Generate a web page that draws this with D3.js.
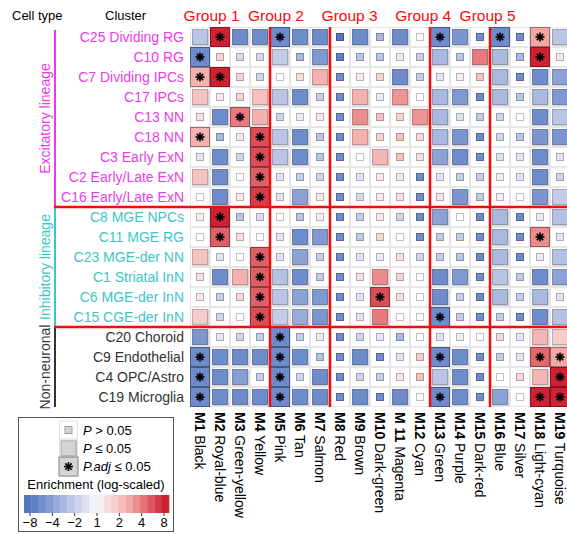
<!DOCTYPE html>
<html>
<head>
<meta charset="utf-8">
<script src="https://cdnjs.cloudflare.com/ajax/libs/d3/7.8.5/d3.min.js"></script>
<style>
  body { margin: 0; background: #fff; }
  svg text { font-family: "Liberation Sans", Arial, Helvetica, sans-serif; }
</style>
</head>
<body>
<div id="chart"></div>
<script>
// Row clusters and their cell types
var clusters = ["C25 Dividing RG", "C10 RG", "C7 Dividing IPCs", "C17 IPCs", "C13 NN", "C18 NN",
    "C3 Early ExN", "C2 Early/Late ExN", "C16 Early/Late ExN", "C8 MGE NPCs", "C11 MGE RG",
    "C23 MGE-der NN", "C1 Striatal InN", "C6 MGE-der InN", "C15 CGE-der InN", "C20 Choroid",
    "C9 Endothelial", "C4 OPC/Astro", "C19 Microglia"];
var cellTypes = [
    {name: "Excitatory lineage", first: 0, last: 8, color: "#e93ce9"},
    {name: "Inhibitory lineage", first: 9, last: 14, color: "#3cc6c8"},
    {name: "Non-neuronal", first: 15, last: 18, color: "#333333"}
];

// Module columns
var moduleIds = ["M1", "M2", "M3", "M4", "M5", "M6", "M7", "M8", "M9", "M10", "M 11", "M12",
    "M13", "M14", "M15", "M16", "M17", "M18", "M19"];
var moduleNames = ["Black", "Royal-blue", "Green-yellow", "Yellow", "Pink", "Tan", "Salmon", "Red",
    "Brown", "Dark-green", "Magenta", "Cyan", "Green", "Purple", "Dark-red", "Blue", "Silver",
    "Light-cyan", "Turquoise"];
var groups = [
    {name: "Group 1", first: 0, last: 3},
    {name: "Group 2", first: 4, last: 6},
    {name: "Group 3", first: 7, last: 11},
    {name: "Group 4", first: 12, last: 14},
    {name: "Group 5", first: 15, last: 18}
];

// Enrichment, log2 scale (-3 = 1/8 ... 3 = 8), one array per cluster
var enrichment = [
    [-1.2, 3, -2.5, -2.5, -2.5, -2.5, -2.5, -3, -2.5, -1.5, -2.5, 0, -2.5, -2.3, -2.5, -2.5, -2.5, 1.5, -1.2],
    [-2.5, 0.7, -0.7, -0.7, -1, -1.5, -2.2, -2.8, -1.2, -1.2, -0.3, -1, -1.5, -1.2, 2, -1.5, -1.5, 3, 0.3],
    [1.3, 3, 0.7, -0.8, 0, 0.5, 1.3, -2.5, 0.2, 0.7, -2.5, -1, -0.4, 0.2, 1, -1.5, -2.5, -2.5, -2],
    [1, 0.3, 0.7, 1, -1.2, -2.5, -1, -2.5, 1.3, -0.3, 1.7, 0, -1.5, -2.2, -2.5, -1.5, -1.2, -1.5, -2.2],
    [0.5, -2.5, 2, 1.3, -0.8, -0.3, 0.3, -2.5, 1.8, 1, 0.7, 1.7, -1.5, -0.5, -1, -0.8, 0, -2.5, -1.2],
    [1.3, -1.5, 0.3, 2.5, -1.2, -2.5, -1.2, -2.5, 1.3, 0.7, 1, 0.6, -1.5, -2.3, -2.5, -0.8, -1.2, -2.3, -2.3],
    [-0.4, -2.5, -0.8, 2.5, -1.2, -2.5, -1.2, -2.5, 0, 1.2, 1, 0.5, -2, -2.5, -2.5, -0.5, -0.4, -2.5, -0.5],
    [1, -2.5, 0, 2.3, -0.5, -1, -0.8, -2.5, -0.5, 0.3, -0.3, -2.5, -0.4, -1, -1, -0.2, -0.5, -2.5, -0.8],
    [0, -2.5, 0.3, 2.7, -0.5, -2, 0.3, -2.5, -0.6, 0.3, 0.5, -2.5, 0.4, -2.3, -1, -0.2, 0, -2.3, -1],
    [0.2, 3, -1.2, -0.6, 0, -1.2, 0.2, -2.5, -1, 0.3, -0.8, -2.5, -2, 0, -2.5, -1.5, -2.5, -0.3, -1.3],
    [0, 2.3, 0.5, 0, -0.4, -2.5, -2.2, -2.5, -1, 0.6, 0, -2.5, -1, -1, -2.5, -1.5, -2.5, 1.8, -0.4],
    [1, -0.5, 0, 2.3, -0.5, -2, -1, -2.5, -0.5, -0.3, 0.5, -0.8, -1, -1.2, -2.5, -1.5, -2.5, -0.3, -1.3],
    [0.5, -2.5, 1.3, 2.3, -1.3, -2.5, -1, -2.5, 0.5, 1.8, 0.7, 0, -2.5, -2.2, -2.5, -1.2, -1, -2.5, -2],
    [0.3, -1, 0.6, 2.3, -1.2, -2, -2.2, -2.5, -0.5, 2.5, 0.5, 0, -2.5, -1, -2.5, -1.5, -1, -1.5, -0.5],
    [0.8, -0.8, 0, 2.5, -1, -1.8, -2.3, -2.5, -0.5, 2, 0, 0, -2.5, -1, -2.5, -1, -2.5, -2.5, -1.3],
    [-2.3, -0.4, -0.8, -1, -2.5, -1, -0.3, -2.5, -0.8, -0.4, -1.5, 0, -0.5, -0.2, 0, 0.6, -0.4, 1.2, 0.8],
    [-2.5, -2.5, -2.5, -2.5, -2.5, -2.5, -1.3, -2.5, -2.5, -2.5, -0.5, 0.8, -2.5, -2.5, -2.5, -1, -0.4, 2.2, 1.5],
    [-2.5, -2.5, -2.1, -1, -2.5, -0.8, -2.5, -2.5, -0.8, -1, 0.4, 1, -1.2, -2.5, -2.5, -0.1, 0.6, 1.2, 3],
    [-2.5, -2.5, -2.5, -2.5, -2.5, -2.5, -2.5, -2.5, -2.5, -2.5, -2.5, 0, -2.5, -2.5, -2.5, -2, 0, 3, 3]
];

// Significance: 0 = P > 0.05, 1 = P <= 0.05, 2 = P.adj <= 0.05
var significance = [
    [1,2,1,1,2,1,1,0,1,0,1,0,2,1,0,2,0,2,1],
    [2,0,0,0,1,0,1,0,0,0,0,0,1,0,1,1,0,2,0],
    [2,2,0,0,0,0,1,0,0,0,1,0,0,0,0,1,0,1,1],
    [1,0,0,1,1,1,0,0,1,0,1,0,1,1,0,1,0,1,1],
    [0,1,2,1,0,0,0,0,1,0,0,1,1,0,0,0,0,1,1],
    [2,0,0,2,1,1,0,0,1,0,0,0,1,1,0,0,0,1,1],
    [0,1,0,2,1,1,0,0,0,1,0,0,1,1,0,0,0,1,0],
    [1,1,0,2,0,0,0,0,0,0,0,0,0,0,0,0,0,1,0],
    [0,1,0,2,0,1,0,0,0,0,0,0,0,1,0,0,0,1,1],
    [0,2,0,0,0,0,0,0,0,0,0,0,1,0,0,1,0,0,1],
    [0,2,0,0,0,1,1,0,0,0,0,0,0,0,0,1,0,2,0],
    [1,0,0,2,0,1,0,0,0,0,0,0,0,0,0,1,0,0,1],
    [0,1,1,2,1,1,0,0,0,1,0,0,1,1,0,1,0,1,1],
    [0,0,0,2,1,1,1,0,0,2,0,0,1,0,0,1,0,1,0],
    [1,0,0,2,1,1,1,0,0,1,0,0,2,0,0,0,0,1,1],
    [1,0,0,0,2,0,0,0,0,0,0,0,0,0,0,0,0,1,1],
    [2,1,1,1,2,1,0,0,1,0,0,0,2,1,0,0,0,2,2],
    [2,1,1,0,2,0,1,0,0,0,0,0,1,1,0,0,0,1,2],
    [2,1,1,1,2,1,1,0,1,0,1,0,2,1,0,1,0,2,2]
];

// Legend
var legendItems = [
    {label: ["P", " > 0.05"], sig: 0},
    {label: ["P", " \u2264 0.05"], sig: 1},
    {label: ["P.adj", " \u2264 0.05"], sig: 2}
];
var legendTicks = [-3, -2, -1, 0, 1, 2, 3];
var legendTickLabels = ["\u22128", "\u22124", "\u22122", "1", "2", "4", "8"];

var width = 567, height = 534;
var svg = d3.select("#chart").append("svg")
    .attr("width", width)
    .attr("height", height);

var x = d3.scaleBand().domain(d3.range(moduleIds.length)).range([190, 570]);
var y = d3.scaleBand().domain(d3.range(clusters.length)).range([27, 407]);

var color = d3.scaleLinear()
    .domain([-3, -1.5, 0, 1.5, 3])
    .range(["#5276c0", "#a9b8df", "#f8f8fb", "#f3a6a3", "#cc2233"])
    .clamp(true);

var boxSize = [7, 15, x.bandwidth()];
var redLine = "#f20d0d";

// Header texts
svg.append("text").attr("x", 12).attr("y", 20).attr("font-size", 13).text("Cell type");
svg.append("text").attr("x", 105).attr("y", 20).attr("font-size", 13).text("Cluster");

svg.selectAll(".group-label")
    .data(groups)
    .enter().append("text")
    .attr("class", "group-label")
    .attr("x", function(d) { return 0.92 * (x(d.first) + x(d.last) + x.bandwidth()) / 2; })
    .attr("y", 21)
    .attr("text-anchor", "middle")
    .attr("font-size", 15.5)
    .attr("fill", redLine)
    .text(function(d) { return d.name; });

// Grid of cells
var cells = [];
clusters.forEach(function(c, i) {
    moduleIds.forEach(function(m, j) {
        cells.push({row: i, col: j, value: enrichment[i][j], sig: significance[i][j]});
    });
});

svg.append("g").selectAll("rect")
    .data(cells)
    .enter().append("rect")
    .attr("x", function(d) { return x(d.col) + 0.5; })
    .attr("y", function(d) { return y(d.row) + 0.5; })
    .attr("width", x.bandwidth() - 1)
    .attr("height", y.bandwidth() - 1)
    .attr("fill", "#fff")
    .attr("stroke", "#e6e6e6")
    .attr("stroke-width", 1);

function drawBox(g, cx, cy, sig, fill) {
    var s = boxSize[sig];
    if (sig === 1) {
        // soft drop shadow
        g.append("rect")
            .attr("x", cx - s / 2).attr("y", cy - s / 2)
            .attr("width", s + 1.5).attr("height", s + 1.5)
            .attr("fill", "#d2d2d2");
    }
    var inset = sig === 2 ? 0.5 : 0;
    g.append("rect")
        .attr("x", cx - s / 2 + inset).attr("y", cy - s / 2 + inset)
        .attr("width", s - 2 * inset).attr("height", s - 2 * inset)
        .attr("fill", fill)
        .attr("stroke", d3.color(fill).darker(sig === 2 ? 1.3 : 0.8))
        .attr("stroke-width", sig === 1 ? 0.8 : 1);
    if (sig === 2) {
        // asterisk
        for (var k = 0; k < 4; k++) {
            var a = k * Math.PI / 4, r = 4.5;
            g.append("line")
                .attr("x1", cx - r * Math.cos(a)).attr("y1", cy - r * Math.sin(a))
                .attr("x2", cx + r * Math.cos(a)).attr("y2", cy + r * Math.sin(a))
                .attr("stroke", "#000").attr("stroke-width", 1.6);
        }
    }
}

var marks = svg.append("g");
cells.forEach(function(d) {
    var fill = d.sig === 0 && Math.abs(d.value) < 0.15 ? "#ffffff" : color(d.value);
    drawBox(marks, x(d.col) + x.bandwidth() / 2, y(d.row) + y.bandwidth() / 2, d.sig, fill);
});

// Row labels
svg.selectAll(".row-label")
    .data(clusters)
    .enter().append("text")
    .attr("class", "row-label")
    .attr("x", 184)
    .attr("y", function(d, i) { return y(i) + y.bandwidth() / 2; })
    .attr("dy", "0.35em")
    .attr("text-anchor", "end")
    .attr("font-size", 14)
    .attr("fill", function(d, i) {
        return cellTypes.filter(function(t) { return i >= t.first && i <= t.last; })[0].color;
    })
    .text(function(d) { return d; });

// Cell type brackets and labels
cellTypes.forEach(function(t, k) {
    var y0 = y(t.first) + (k === 0 ? 3 : 0), y1 = y(t.last) + y.bandwidth();
    svg.append("line")
        .attr("x1", 55).attr("x2", 55)
        .attr("y1", y0).attr("y2", y1)
        .attr("stroke", t.color).attr("stroke-width", 2);
    svg.append("text")
        .attr("transform", "translate(45," + ((y0 + y1) / 2) + ") rotate(-90)")
        .attr("text-anchor", "middle")
        .attr("dy", "0.35em")
        .attr("font-size", 14)
        .attr("fill", t.color)
        .text(t.name);
});

// Group separators (red)
groups.slice(0, -1).forEach(function(g) {
    svg.append("line")
        .attr("x1", x(g.last) + x.bandwidth()).attr("x2", x(g.last) + x.bandwidth())
        .attr("y1", y(0)).attr("y2", y(clusters.length - 1) + y.bandwidth())
        .attr("stroke", redLine).attr("stroke-width", 2.5);
});
cellTypes.slice(0, -1).forEach(function(t) {
    svg.append("line")
        .attr("x1", 54).attr("x2", width)
        .attr("y1", y(t.last) + y.bandwidth()).attr("y2", y(t.last) + y.bandwidth())
        .attr("stroke", redLine).attr("stroke-width", 2.5);
});

// Column labels
var colLabels = svg.selectAll(".col-label")
    .data(moduleIds)
    .enter().append("text")
    .attr("class", "col-label")
    .attr("transform", function(d, i) {
        return "translate(" + (x(i) + x.bandwidth() / 2) + ",412) rotate(90)";
    })
    .attr("dy", "0.35em")
    .attr("font-size", 14);
colLabels.append("tspan").attr("font-weight", "bold").text(function(d) { return d; });
colLabels.append("tspan").text(function(d, i) { return " " + moduleNames[i]; });

// Legend box
var legend = svg.append("g");
legend.append("rect")
    .attr("x", 18.5).attr("y", 417.5)
    .attr("width", 155).attr("height", 114)
    .attr("fill", "#fff").attr("stroke", "#555").attr("stroke-width", 1);

legendItems.forEach(function(item, k) {
    var cy = 430 + k * 18.3;
    legend.append("rect")
        .attr("x", 59.5).attr("y", cy - 9)
        .attr("width", 18).attr("height", 18)
        .attr("fill", "#fff").attr("stroke", "#e3e3e3");
    drawBox(legend, 68.5, cy, item.sig, "#d4d4d4");
    var t = legend.append("text")
        .attr("x", 83).attr("y", cy).attr("dy", "0.35em")
        .attr("font-size", 13);
    t.append("tspan").attr("font-style", "italic").text(item.label[0]);
    t.append("tspan").text(item.label[1]);
});

legend.append("text")
    .attr("x", 96).attr("y", 489)
    .attr("text-anchor", "middle")
    .attr("font-size", 13)
    .text("Enrichment (log-scaled)");

var lx = d3.scaleLinear().domain([-3, 3]).range([30, 164]);
var nSteps = 20;
var barMin = lx.invert(24), barMax = lx.invert(169);
var stepW = (barMax - barMin) / nSteps;
legend.selectAll(".bar-step")
    .data(d3.range(nSteps))
    .enter().append("rect")
    .attr("class", "bar-step")
    .attr("x", function(i) { return lx(barMin + i * stepW); })
    .attr("y", 495)
    .attr("width", lx(barMin + stepW) - lx(barMin) + 0.3)
    .attr("height", 18)
    .attr("fill", function(i) { return color(barMin + (i + 0.5) * stepW); });

legend.selectAll(".bar-tick")
    .data(legendTicks)
    .enter().append("line")
    .attr("x1", function(d) { return lx(d); }).attr("x2", function(d) { return lx(d); })
    .attr("y1", 513).attr("y2", 516)
    .attr("stroke", "#333");
legend.selectAll(".bar-label")
    .data(legendTicks)
    .enter().append("text")
    .attr("x", function(d) { return lx(d); })
    .attr("y", 527)
    .attr("text-anchor", "middle")
    .attr("font-size", 13)
    .text(function(d, i) { return legendTickLabels[i]; });
</script>
</body>
</html>
